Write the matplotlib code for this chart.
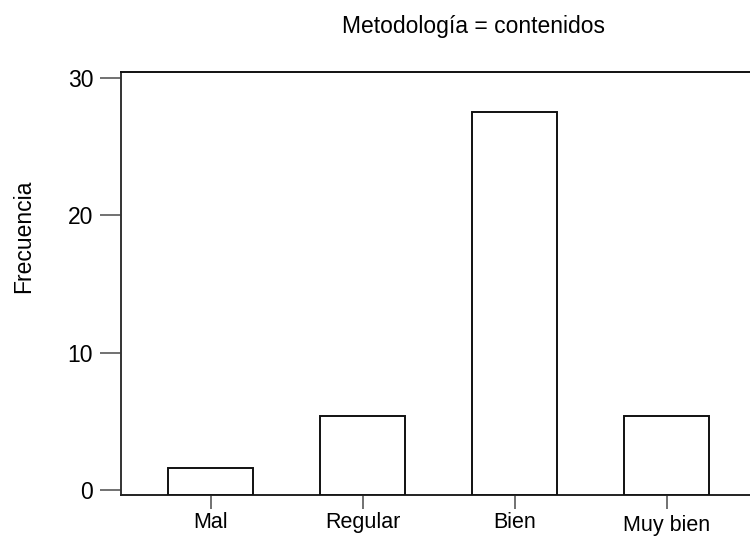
import numpy as np
import matplotlib
matplotlib.use("Agg")
import matplotlib.pyplot as plt
import matplotlib.transforms as mtransforms

plt.rcParams['font.family'] = ['Liberation Sans', 'DejaVu Sans']

# datos
categorias = ["Mal", "Regular", "Bien", "Muy bien"]
frecuencias = [1.6, 5.4, 27.5, 5.4]
yticks = [0, 10, 20, 30]

base = -0.36

fig = plt.figure(figsize=(7.5, 5.41), dpi=100)
ax = fig.add_axes([121 / 750, 1 - 495 / 541, 629 / 750, 423 / 541])

x = np.arange(len(categorias))
alturas = np.array(frecuencias) - base
ax.bar(x, alturas, bottom=base, width=0.56, color="white",
       edgecolor="#111111", linewidth=1.4, zorder=3)

ax.set_xlim(-0.589, 3.549)
ax.set_ylim(base, 30.44)

ax.set_yticks(yticks)
ax.set_xticks(x)
ax.set_xticklabels(categorias)

ax.spines["right"].set_visible(False)
for s in ["left", "top", "bottom"]:
    ax.spines[s].set_linewidth(1.4)
ax.spines["left"].set_color("#333333")
ax.spines["top"].set_color("#111111")
ax.spines["bottom"].set_color("#222222")

ax.tick_params(axis="y", direction="out", length=15, width=1.3,
               color="#666666", labelsize=16.5, pad=5)
ax.tick_params(axis="x", direction="out", length=10, width=1.3,
               color="#666666", labelsize=15.5, pad=2)

# "Muy bien" aparece un poco más abajo
lbl = ax.get_xticklabels()[3]
lbl.set_transform(lbl.get_transform() +
                  mtransforms.ScaledTranslation(0, -3 / 100, fig.dpi_scale_trans))

fig.text(473 / 750, 1 - 27 / 541, "Metodología = contenidos",
         ha="center", va="center", fontsize=16.5)
fig.text(24 / 750, 1 - 236 / 541, "Frecuencia", rotation=90,
         ha="center", va="center", fontsize=16.5)

fig.savefig("out.png", dpi=100)
